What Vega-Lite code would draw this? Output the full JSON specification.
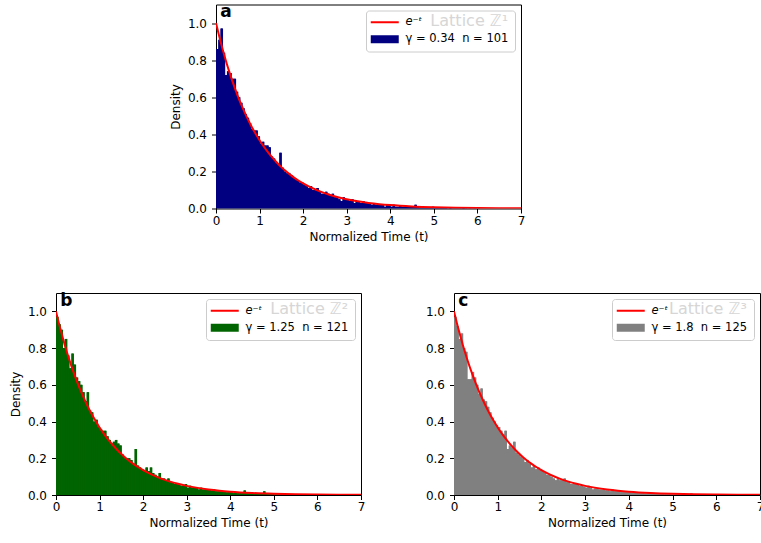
{
  "$schema": "https://vega.github.io/schema/vega-lite/v6.json",
  "padding": {"left": 8, "top": 2.5, "right": 0, "bottom": 0},
  "background": "white",
  "datasets": {
    "curve": [
      {"t":0,"y":1.0},{"t":0.1,"y":0.9048},{"t":0.2,"y":0.8187},{"t":0.3,"y":0.7408},{"t":0.4,"y":0.6703},{"t":0.5,"y":0.6065},{"t":0.6,"y":0.5488},{"t":0.7,"y":0.4966},{"t":0.8,"y":0.4493},{"t":0.9,"y":0.4066},{"t":1.0,"y":0.3679},{"t":1.1,"y":0.3329},{"t":1.2,"y":0.3012},{"t":1.3,"y":0.2725},{"t":1.4,"y":0.2466},{"t":1.5,"y":0.2231},{"t":1.6,"y":0.2019},{"t":1.7,"y":0.1827},{"t":1.8,"y":0.1653},{"t":1.9,"y":0.1496},{"t":2.0,"y":0.1353},{"t":2.2,"y":0.1108},{"t":2.4,"y":0.0907},{"t":2.6,"y":0.0743},{"t":2.8,"y":0.0608},{"t":3.0,"y":0.0498},{"t":3.25,"y":0.0388},{"t":3.5,"y":0.0302},{"t":3.75,"y":0.0235},{"t":4.0,"y":0.0183},{"t":4.5,"y":0.0111},{"t":5.0,"y":0.0067},{"t":5.5,"y":0.0041},{"t":6.0,"y":0.0025},{"t":6.5,"y":0.0015},{"t":7.0,"y":0.0009}
    ],
    "ha": [
      {"t":0.00,"d":0.86},{"t":0.05,"d":0.91},{"t":0.10,"d":0.97},{"t":0.15,"d":0.84},{"t":0.20,"d":0.72},{"t":0.25,"d":0.74},{"t":0.30,"d":0.73},{"t":0.35,"d":0.70},{"t":0.40,"d":0.70},{"t":0.45,"d":0.63},
      {"t":0.50,"d":0.60},{"t":0.55,"d":0.57},{"t":0.60,"d":0.54},{"t":0.65,"d":0.51},{"t":0.70,"d":0.49},{"t":0.75,"d":0.46},{"t":0.80,"d":0.43},{"t":0.85,"d":0.42},{"t":0.90,"d":0.42},{"t":0.95,"d":0.39},
      {"t":1.00,"d":0.35},{"t":1.05,"d":0.36},{"t":1.10,"d":0.34},{"t":1.15,"d":0.34},{"t":1.20,"d":0.33},{"t":1.25,"d":0.28},{"t":1.30,"d":0.27},{"t":1.35,"d":0.25},{"t":1.40,"d":0.24},{"t":1.45,"d":0.30},
      {"t":1.50,"d":0.22},{"t":1.55,"d":0.20},{"t":1.60,"d":0.19},{"t":1.65,"d":0.19},{"t":1.70,"d":0.18},{"t":1.75,"d":0.17},{"t":1.80,"d":0.16},{"t":1.85,"d":0.15},{"t":1.90,"d":0.14},{"t":1.95,"d":0.14},
      {"t":2.00,"d":0.13},{"t":2.05,"d":0.12},{"t":2.10,"d":0.11},{"t":2.15,"d":0.12},{"t":2.20,"d":0.10},{"t":2.25,"d":0.10},{"t":2.30,"d":0.11},{"t":2.35,"d":0.09},{"t":2.40,"d":0.08},{"t":2.45,"d":0.08},
      {"t":2.50,"d":0.09},{"t":2.55,"d":0.08},{"t":2.60,"d":0.07},{"t":2.65,"d":0.08},{"t":2.70,"d":0.06},{"t":2.75,"d":0.06},{"t":2.80,"d":0.05},{"t":2.85,"d":0.04},{"t":2.90,"d":0.06},{"t":2.95,"d":0.05},
      {"t":3.00,"d":0.05},{"t":3.05,"d":0.04},{"t":3.10,"d":0.05},{"t":3.15,"d":0.03},{"t":3.20,"d":0.04},{"t":3.25,"d":0.04},{"t":3.30,"d":0.03},{"t":3.35,"d":0.04},{"t":3.40,"d":0.03},{"t":3.45,"d":0.03},
      {"t":3.50,"d":0.03},{"t":3.55,"d":0.02},{"t":3.60,"d":0.03},{"t":3.65,"d":0.02},{"t":3.70,"d":0.02},{"t":3.75,"d":0.02},{"t":3.80,"d":0.02},{"t":3.85,"d":0.01},{"t":3.90,"d":0.02},{"t":3.95,"d":0.02},
      {"t":4.00,"d":0.01},{"t":4.05,"d":0.02},{"t":4.10,"d":0.01},{"t":4.15,"d":0.01},{"t":4.20,"d":0.015},{"t":4.25,"d":0.01},{"t":4.30,"d":0.01},{"t":4.35,"d":0.01},{"t":4.40,"d":0.01},{"t":4.45,"d":0.008},
      {"t":4.50,"d":0.008},{"t":4.55,"d":0.02},{"t":4.60,"d":0.008},{"t":4.65,"d":0.005},{"t":4.70,"d":0.008},{"t":4.75,"d":0.005},{"t":4.80,"d":0.005},{"t":4.85,"d":0.005},{"t":4.90,"d":0.004},{"t":4.95,"d":0.01},
      {"t":5.00,"d":0.004},{"t":5.05,"d":0.004},{"t":5.10,"d":0.003},{"t":5.15,"d":0.003},{"t":5.20,"d":0.004},{"t":5.25,"d":0.003},{"t":5.30,"d":0.002},{"t":5.35,"d":0.003},{"t":5.40,"d":0.002},{"t":5.45,"d":0.002},
      {"t":5.50,"d":0.002},{"t":5.55,"d":0.002},{"t":5.60,"d":0.002},{"t":5.65,"d":0.008},{"t":5.70,"d":0.001},{"t":5.80,"d":0.001},{"t":5.90,"d":0.001},{"t":6.00,"d":0.001},{"t":6.05,"d":0}
    ],
    "hb": [
      {"t":0.00,"d":0.97},{"t":0.05,"d":0.93},{"t":0.10,"d":0.90},{"t":0.15,"d":0.80},{"t":0.20,"d":0.85},{"t":0.25,"d":0.76},{"t":0.30,"d":0.69},{"t":0.35,"d":0.77},{"t":0.40,"d":0.71},{"t":0.45,"d":0.64},
      {"t":0.50,"d":0.62},{"t":0.55,"d":0.60},{"t":0.60,"d":0.56},{"t":0.65,"d":0.51},{"t":0.70,"d":0.56},{"t":0.75,"d":0.46},{"t":0.80,"d":0.45},{"t":0.85,"d":0.40},{"t":0.90,"d":0.41},{"t":0.95,"d":0.37},
      {"t":1.00,"d":0.36},{"t":1.05,"d":0.35},{"t":1.10,"d":0.35},{"t":1.15,"d":0.32},{"t":1.20,"d":0.30},{"t":1.25,"d":0.28},{"t":1.30,"d":0.29},{"t":1.35,"d":0.30},{"t":1.40,"d":0.28},{"t":1.45,"d":0.27},
      {"t":1.50,"d":0.22},{"t":1.55,"d":0.20},{"t":1.60,"d":0.20},{"t":1.65,"d":0.20},{"t":1.70,"d":0.19},{"t":1.75,"d":0.17},{"t":1.80,"d":0.25},{"t":1.85,"d":0.16},{"t":1.90,"d":0.15},{"t":1.95,"d":0.14},
      {"t":2.00,"d":0.13},{"t":2.05,"d":0.15},{"t":2.10,"d":0.13},{"t":2.15,"d":0.15},{"t":2.20,"d":0.12},{"t":2.25,"d":0.11},{"t":2.30,"d":0.10},{"t":2.35,"d":0.12},{"t":2.40,"d":0.09},{"t":2.45,"d":0.09},
      {"t":2.50,"d":0.08},{"t":2.55,"d":0.09},{"t":2.60,"d":0.07},{"t":2.65,"d":0.07},{"t":2.70,"d":0.06},{"t":2.75,"d":0.06},{"t":2.80,"d":0.06},{"t":2.85,"d":0.05},{"t":2.90,"d":0.05},{"t":2.95,"d":0.06},
      {"t":3.00,"d":0.04},{"t":3.05,"d":0.05},{"t":3.10,"d":0.04},{"t":3.15,"d":0.04},{"t":3.20,"d":0.04},{"t":3.25,"d":0.03},{"t":3.30,"d":0.04},{"t":3.35,"d":0.03},{"t":3.40,"d":0.03},{"t":3.45,"d":0.03},
      {"t":3.50,"d":0.03},{"t":3.55,"d":0.025},{"t":3.60,"d":0.03},{"t":3.65,"d":0.02},{"t":3.70,"d":0.02},{"t":3.75,"d":0.02},{"t":3.80,"d":0.02},{"t":3.85,"d":0.02},{"t":3.90,"d":0.015},{"t":3.95,"d":0.02},
      {"t":4.00,"d":0.015},{"t":4.05,"d":0.01},{"t":4.10,"d":0.015},{"t":4.15,"d":0.01},{"t":4.20,"d":0.01},{"t":4.25,"d":0.01},{"t":4.30,"d":0.025},{"t":4.35,"d":0.01},{"t":4.40,"d":0.01},{"t":4.45,"d":0.008},
      {"t":4.50,"d":0.008},{"t":4.55,"d":0.008},{"t":4.60,"d":0.006},{"t":4.65,"d":0.006},{"t":4.70,"d":0.005},{"t":4.75,"d":0.02},{"t":4.80,"d":0.005},{"t":4.85,"d":0.004},{"t":4.90,"d":0.004},{"t":4.95,"d":0.004},
      {"t":5.00,"d":0.003},{"t":5.05,"d":0.003},{"t":5.10,"d":0.003},{"t":5.15,"d":0.003},{"t":5.20,"d":0.002},{"t":5.25,"d":0.003},{"t":5.30,"d":0.002},{"t":5.35,"d":0.002},{"t":5.40,"d":0.002},{"t":5.50,"d":0.002},{"t":5.60,"d":0.001},{"t":5.80,"d":0.001},{"t":6.00,"d":0.001},{"t":6.05,"d":0}
    ],
    "hc": [
      {"t":0.00,"d":0.97},{"t":0.05,"d":0.92},{"t":0.10,"d":0.85},{"t":0.15,"d":0.88},{"t":0.20,"d":0.80},{"t":0.25,"d":0.78},{"t":0.30,"d":0.63},{"t":0.35,"d":0.63},{"t":0.40,"d":0.67},{"t":0.45,"d":0.64},
      {"t":0.50,"d":0.60},{"t":0.55,"d":0.55},{"t":0.60,"d":0.58},{"t":0.65,"d":0.52},{"t":0.70,"d":0.51},{"t":0.75,"d":0.48},{"t":0.80,"d":0.45},{"t":0.85,"d":0.42},{"t":0.90,"d":0.40},{"t":0.95,"d":0.38},
      {"t":1.00,"d":0.37},{"t":1.05,"d":0.35},{"t":1.10,"d":0.33},{"t":1.15,"d":0.35},{"t":1.20,"d":0.25},{"t":1.25,"d":0.27},{"t":1.30,"d":0.26},{"t":1.35,"d":0.29},{"t":1.40,"d":0.23},{"t":1.45,"d":0.22},
      {"t":1.50,"d":0.21},{"t":1.55,"d":0.20},{"t":1.60,"d":0.18},{"t":1.65,"d":0.19},{"t":1.70,"d":0.17},{"t":1.75,"d":0.15},{"t":1.80,"d":0.16},{"t":1.85,"d":0.14},{"t":1.90,"d":0.15},{"t":1.95,"d":0.14},
      {"t":2.00,"d":0.13},{"t":2.05,"d":0.12},{"t":2.10,"d":0.11},{"t":2.15,"d":0.11},{"t":2.20,"d":0.10},{"t":2.25,"d":0.09},{"t":2.30,"d":0.08},{"t":2.35,"d":0.09},{"t":2.40,"d":0.08},{"t":2.45,"d":0.08},
      {"t":2.50,"d":0.09},{"t":2.55,"d":0.07},{"t":2.60,"d":0.07},{"t":2.65,"d":0.06},{"t":2.70,"d":0.06},{"t":2.75,"d":0.06},{"t":2.80,"d":0.055},{"t":2.85,"d":0.05},{"t":2.90,"d":0.05},{"t":2.95,"d":0.045},
      {"t":3.00,"d":0.04},{"t":3.05,"d":0.05},{"t":3.10,"d":0.04},{"t":3.15,"d":0.03},{"t":3.20,"d":0.035},{"t":3.25,"d":0.035},{"t":3.30,"d":0.03},{"t":3.35,"d":0.03},{"t":3.40,"d":0.03},{"t":3.45,"d":0.025},
      {"t":3.50,"d":0.025},{"t":3.55,"d":0.02},{"t":3.60,"d":0.03},{"t":3.65,"d":0.02},{"t":3.70,"d":0.02},{"t":3.75,"d":0.02},{"t":3.80,"d":0.015},{"t":3.85,"d":0.015},{"t":3.90,"d":0.015},{"t":3.95,"d":0.015},
      {"t":4.00,"d":0.015},{"t":4.05,"d":0.012},{"t":4.10,"d":0.012},{"t":4.15,"d":0.012},{"t":4.20,"d":0.01},{"t":4.25,"d":0.01},{"t":4.30,"d":0.01},{"t":4.35,"d":0.008},{"t":4.40,"d":0.008},{"t":4.45,"d":0.012},
      {"t":4.50,"d":0.008},{"t":4.55,"d":0.006},{"t":4.60,"d":0.006},{"t":4.65,"d":0.005},{"t":4.70,"d":0.005},{"t":4.75,"d":0.005},{"t":4.80,"d":0.004},{"t":4.85,"d":0.004},{"t":4.90,"d":0.004},{"t":4.95,"d":0.003},
      {"t":5.00,"d":0.003},{"t":5.05,"d":0.003},{"t":5.10,"d":0.003},{"t":5.15,"d":0.002},{"t":5.20,"d":0.002},{"t":5.25,"d":0.002},{"t":5.30,"d":0.002},{"t":5.40,"d":0.008},{"t":5.45,"d":0.002},{"t":5.50,"d":0.002},{"t":5.60,"d":0.001},{"t":5.80,"d":0.001},{"t":6.00,"d":0.001},{"t":6.05,"d":0}
    ]
  },
  "config": {
    "font": "DejaVu Sans",
    "view": {"stroke": "black", "strokeWidth": 1},
    "axis": {"grid": false, "domain": false, "ticks": true, "tickColor": "black", "tickSize": 4.5, "tickWidth": 1,
      "labelFont": "DejaVu Sans", "labelFontSize": 12, "labelColor": "black",
      "titleFont": "DejaVu Sans", "titleFontSize": 12, "titleColor": "black", "titleFontWeight": "normal"},
    "axisX": {"labelPadding": 2, "titlePadding": 5, "labelFlush": false},
    "axisY": {"labelPadding": 5, "titlePadding": 5},
    "legend": {"orient": "top-right", "offset": 6, "padding": 6, "strokeColor": "#cccccc", "strokeWidth": 1, "cornerRadius": 3,
      "labelFont": "DejaVu Sans", "labelFontSize": 11.5, "labelColor": "black", "symbolSize": 100, "labelOffset": 22, "rowPadding": 4, "titlePadding": 0}
  },
  "resolve": {"scale": {"color": "independent", "x": "independent", "y": "independent"}, "legend": {"color": "independent"}},
  "spacing": 48.5,
  "vconcat": [
    {
      "spacing": 0,
      "resolve": {"scale": {"color": "independent", "x": "independent", "y": "independent"}, "legend": {"color": "independent"}},
      "hconcat": [
        {"width": 112, "height": 10, "data": {"values": []}, "mark": "point", "encoding": {}, "view": {"stroke": null}},
        {
          "width": 305, "height": 204,
          "layer": [
            {"data": {"name": "ha"}, "mark": {"type": "area", "interpolate": "step-after", "clip": true, "color": "#000080", "opacity": 1},
             "encoding": {
               "x": {"field": "t", "type": "quantitative", "scale": {"domain": [0, 7], "nice": false}, "title": "Normalized Time (t)", "axis": {"values": [0,1,2,3,4,5,6,7], "format": "d"}},
               "y": {"field": "d", "type": "quantitative", "scale": {"domain": [0, 1.1], "nice": false}, "title": "Density", "axis": {"values": [0,0.2,0.4,0.6,0.8,1.0], "format": ".1f"}}
             }},
            {"data": {"name": "ha"}, "mark": {"type": "bar", "binSpacing": 0, "clip": true},
             "encoding": {
               "x": {"field": "t", "type": "quantitative", "bin": {"binned": true, "step": 0.05}},
               "y": {"field": "d", "type": "quantitative"},
               "color": {"datum": "γ = 0.34\u00a0\u00a0n = 101", "scale": {"domain": ["e⁻ᵗ", "γ = 0.34\u00a0\u00a0n = 101"], "range": ["#ff0000", "#000080"]},
                 "legend": {"title": null, "encode": {
                   "symbols": {"update": {"shape": {"signal": "datum.index === 0 ? 'M-1.4,0H4.2' : 'M-1.4,-0.8H4.2V0.8H-1.4Z'"}, "strokeWidth": {"signal": "datum.index === 0 ? 2 : 0"}, "fill": {"signal": "datum.index === 0 ? '#ff0000' : '#000080'"}, "stroke": {"signal": "datum.index === 0 ? '#ff0000' : '#000080'"}, "opacity": {"value": 1}, "fillOpacity": {"value": 1}}},
                   "labels": {"update": {"fontStyle": {"signal": "datum.index === 0 ? 'italic' : 'normal'"}}}}}}
             }},
            {"data": {"name": "curve"}, "mark": {"type": "line", "strokeWidth": 2, "interpolate": "monotone", "clip": true},
             "encoding": {"x": {"field": "t", "type": "quantitative"}, "y": {"field": "y", "type": "quantitative"}, "color": {"datum": "e⁻ᵗ"}}},
            {"data": {"values": [{}]}, "mark": {"type": "text", "fontSize": 17, "fontWeight": "bold", "align": "left", "baseline": "alphabetic", "color": "black"},
             "encoding": {"x": {"datum": 0.1}, "y": {"datum": 1.03}, "text": {"value": "a"}}},
            {"data": {"values": [{}]}, "mark": {"type": "text", "fontSize": 16, "align": "left", "baseline": "alphabetic", "color": "#d6d6d6"},
             "encoding": {"x": {"datum": 4.92}, "y": {"datum": 0.985}, "text": {"value": "Lattice ℤ¹"}}}
          ]
        }
      ]
    },
    {
      "spacing": 58,
      "resolve": {"scale": {"color": "independent", "x": "independent", "y": "independent"}, "legend": {"color": "independent"}},
      "hconcat": [
        {
          "width": 305, "height": 202,
          "layer": [
            {"data": {"name": "hb"}, "mark": {"type": "area", "interpolate": "step-after", "clip": true, "color": "#006400", "opacity": 1},
             "encoding": {
               "x": {"field": "t", "type": "quantitative", "scale": {"domain": [0, 7], "nice": false}, "title": "Normalized Time (t)", "axis": {"values": [0,1,2,3,4,5,6,7], "format": "d"}},
               "y": {"field": "d", "type": "quantitative", "scale": {"domain": [0, 1.1], "nice": false}, "title": "Density", "axis": {"values": [0,0.2,0.4,0.6,0.8,1.0], "format": ".1f"}}
             }},
            {"data": {"name": "hb"}, "mark": {"type": "bar", "binSpacing": 0, "clip": true},
             "encoding": {
               "x": {"field": "t", "type": "quantitative", "bin": {"binned": true, "step": 0.05}},
               "y": {"field": "d", "type": "quantitative"},
               "color": {"datum": "γ = 1.25\u00a0\u00a0n = 121", "scale": {"domain": ["e⁻ᵗ", "γ = 1.25\u00a0\u00a0n = 121"], "range": ["#ff0000", "#006400"]},
                 "legend": {"title": null, "encode": {
                   "symbols": {"update": {"shape": {"signal": "datum.index === 0 ? 'M-1.4,0H4.2' : 'M-1.4,-0.8H4.2V0.8H-1.4Z'"}, "strokeWidth": {"signal": "datum.index === 0 ? 2 : 0"}, "fill": {"signal": "datum.index === 0 ? '#ff0000' : '#006400'"}, "stroke": {"signal": "datum.index === 0 ? '#ff0000' : '#006400'"}, "opacity": {"value": 1}, "fillOpacity": {"value": 1}}},
                   "labels": {"update": {"fontStyle": {"signal": "datum.index === 0 ? 'italic' : 'normal'"}}}}}}
             }},
            {"data": {"name": "curve"}, "mark": {"type": "line", "strokeWidth": 2, "interpolate": "monotone", "clip": true},
             "encoding": {"x": {"field": "t", "type": "quantitative"}, "y": {"field": "y", "type": "quantitative"}, "color": {"datum": "e⁻ᵗ"}}},
            {"data": {"values": [{}]}, "mark": {"type": "text", "fontSize": 17, "fontWeight": "bold", "align": "left", "baseline": "alphabetic", "color": "black"},
             "encoding": {"x": {"datum": 0.1}, "y": {"datum": 1.03}, "text": {"value": "b"}}},
            {"data": {"values": [{}]}, "mark": {"type": "text", "fontSize": 16, "align": "left", "baseline": "alphabetic", "color": "#d6d6d6"},
             "encoding": {"x": {"datum": 4.92}, "y": {"datum": 0.985}, "text": {"value": "Lattice ℤ²"}}}
          ]
        },
        {
          "width": 306, "height": 202,
          "layer": [
            {"data": {"name": "hc"}, "mark": {"type": "area", "interpolate": "step-after", "clip": true, "color": "#808080", "opacity": 1},
             "encoding": {
               "x": {"field": "t", "type": "quantitative", "scale": {"domain": [0, 7], "nice": false}, "title": "Normalized Time (t)", "axis": {"values": [0,1,2,3,4,5,6,7], "format": "d"}},
               "y": {"field": "d", "type": "quantitative", "scale": {"domain": [0, 1.1], "nice": false}, "title": null, "axis": {"values": [0,0.2,0.4,0.6,0.8,1.0], "format": ".1f"}}
             }},
            {"data": {"name": "hc"}, "mark": {"type": "bar", "binSpacing": 0, "clip": true},
             "encoding": {
               "x": {"field": "t", "type": "quantitative", "bin": {"binned": true, "step": 0.05}},
               "y": {"field": "d", "type": "quantitative"},
               "color": {"datum": "γ = 1.8\u00a0\u00a0n = 125", "scale": {"domain": ["e⁻ᵗ", "γ = 1.8\u00a0\u00a0n = 125"], "range": ["#ff0000", "#808080"]},
                 "legend": {"title": null, "encode": {
                   "symbols": {"update": {"shape": {"signal": "datum.index === 0 ? 'M-1.4,0H4.2' : 'M-1.4,-0.8H4.2V0.8H-1.4Z'"}, "strokeWidth": {"signal": "datum.index === 0 ? 2 : 0"}, "fill": {"signal": "datum.index === 0 ? '#ff0000' : '#808080'"}, "stroke": {"signal": "datum.index === 0 ? '#ff0000' : '#808080'"}, "opacity": {"value": 1}, "fillOpacity": {"value": 1}}},
                   "labels": {"update": {"fontStyle": {"signal": "datum.index === 0 ? 'italic' : 'normal'"}}}}}}
             }},
            {"data": {"name": "curve"}, "mark": {"type": "line", "strokeWidth": 2, "interpolate": "monotone", "clip": true},
             "encoding": {"x": {"field": "t", "type": "quantitative"}, "y": {"field": "y", "type": "quantitative"}, "color": {"datum": "e⁻ᵗ"}}},
            {"data": {"values": [{}]}, "mark": {"type": "text", "fontSize": 17, "fontWeight": "bold", "align": "left", "baseline": "alphabetic", "color": "black"},
             "encoding": {"x": {"datum": 0.1}, "y": {"datum": 1.03}, "text": {"value": "c"}}},
            {"data": {"values": [{}]}, "mark": {"type": "text", "fontSize": 16, "align": "left", "baseline": "alphabetic", "color": "#d6d6d6"},
             "encoding": {"x": {"datum": 4.92}, "y": {"datum": 0.985}, "text": {"value": "Lattice ℤ³"}}}
          ]
        }
      ]
    }
  ]
}
